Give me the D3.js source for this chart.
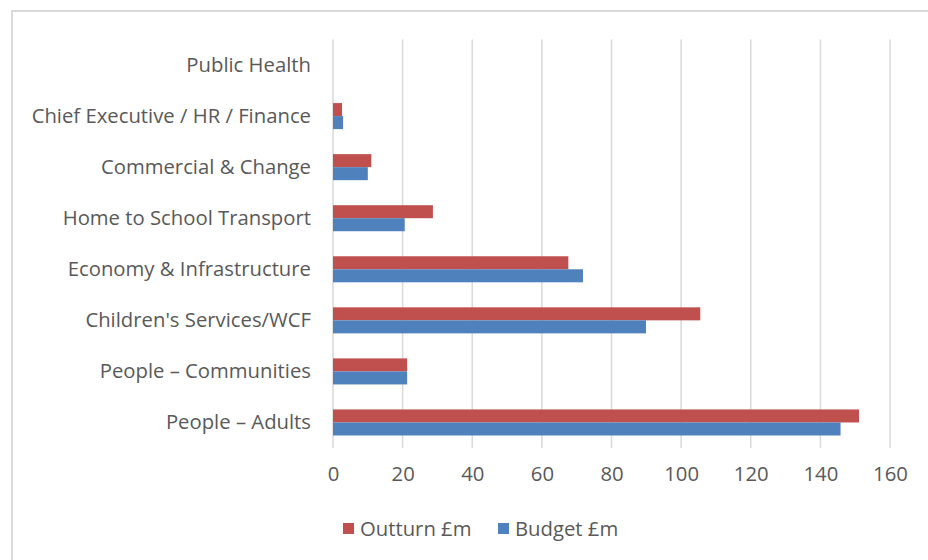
<!DOCTYPE html>
<html>
<head>
<meta charset="utf-8">
<script src="https://cdn.jsdelivr.net/npm/d3@7"></script>
<style>
  body { margin: 0; background: #fff; }
  svg { display: block; font-family: 'Open Sans', sans-serif; }
</style>
</head>
<body>
<svg width="928" height="560"></svg>
<script>
const categories = [
  'Public Health',
  'Chief Executive / HR / Finance',
  'Commercial & Change',
  'Home to School Transport',
  'Economy & Infrastructure',
  "Children's Services/WCF",
  'People – Communities',
  'People – Adults'
];
const outturn = [0, 2.6, 11.0, 28.7, 67.6, 105.5, 21.3, 151.1];
const budget = [0, 2.9, 10.0, 20.6, 71.8, 89.9, 21.3, 145.8];
const seriesNames = ['Outturn £m', 'Budget £m'];
const seriesColors = ['#c0504d', '#4f81bd'];
const xTicks = [0, 20, 40, 60, 80, 100, 120, 140, 160];

const data = categories.map((c, i) => ({ name: c, values: [outturn[i], budget[i]] }));

const svg = d3.select('svg');
const margin = {top: 39.5, left: 333, right: 38, bottom: 112};
const width = 928 - margin.left - margin.right;
const height = 560 - margin.top - margin.bottom;
const fontSize = '20.3px';

// chart frame
svg.append('rect')
  .attr('x', 12).attr('y', 11)
  .attr('width', 940).attr('height', 580)
  .attr('fill', 'none')
  .attr('stroke', '#d9d9d9')
  .attr('stroke-width', 2);

const g = svg.append('g')
  .attr('transform', `translate(${margin.left},${margin.top})`);

const x = d3.scaleLinear()
  .domain([0, 160])
  .range([0, 557]);

const y = d3.scaleBand()
  .domain(categories)
  .range([0, height]);

const y1 = d3.scaleBand()
  .domain(d3.range(seriesNames.length))
  .range([y.bandwidth() * 0.245, y.bandwidth() * 0.755]);

// gridlines
g.append('g')
  .selectAll('line')
  .data(xTicks)
  .enter().append('line')
    .attr('x1', d => x(d))
    .attr('x2', d => x(d))
    .attr('y1', 0)
    .attr('y2', height)
    .attr('stroke', '#d9d9d9')
    .attr('stroke-width', 1.5);

// bars
const groups = g.selectAll('.group')
  .data(data)
  .enter().append('g')
    .attr('class', 'group')
    .attr('transform', d => `translate(0,${y(d.name)})`);

groups.selectAll('rect')
  .data(d => d.values)
  .enter().append('rect')
    .attr('x', x(0))
    .attr('y', (d, i) => y1(i))
    .attr('width', d => x(d) - x(0))
    .attr('height', y1.bandwidth())
    .attr('fill', (d, i) => seriesColors[i]);

// y axis labels
g.append('g')
  .call(d3.axisLeft(y).tickSize(0).tickPadding(22))
  .call(a => a.select('.domain').remove())
  .selectAll('text')
    .attr('fill', '#595959')
    .attr('font-size', fontSize)
    .attr('font-family', "'Open Sans', sans-serif");

// x axis labels
g.append('g')
  .attr('transform', `translate(0,${height})`)
  .call(d3.axisBottom(x).tickValues(xTicks).tickSize(0).tickPadding(19))
  .call(a => a.select('.domain').remove())
  .selectAll('text')
    .attr('fill', '#595959')
    .attr('font-size', fontSize)
    .attr('font-family', "'Open Sans', sans-serif");

// legend
const legendX = [343, 498];
const legend = svg.append('g')
  .selectAll('g')
  .data(seriesNames)
  .enter().append('g')
    .attr('transform', (d, i) => `translate(${legendX[i]},529)`);

legend.append('rect')
  .attr('x', 0).attr('y', -6)
  .attr('width', 11).attr('height', 11)
  .attr('fill', (d, i) => seriesColors[i]);

legend.append('text')
  .attr('x', 17)
  .attr('dy', '0.35em')
  .attr('fill', '#595959')
  .attr('font-size', fontSize)
  .text(d => d);
</script>
</body>
</html>
